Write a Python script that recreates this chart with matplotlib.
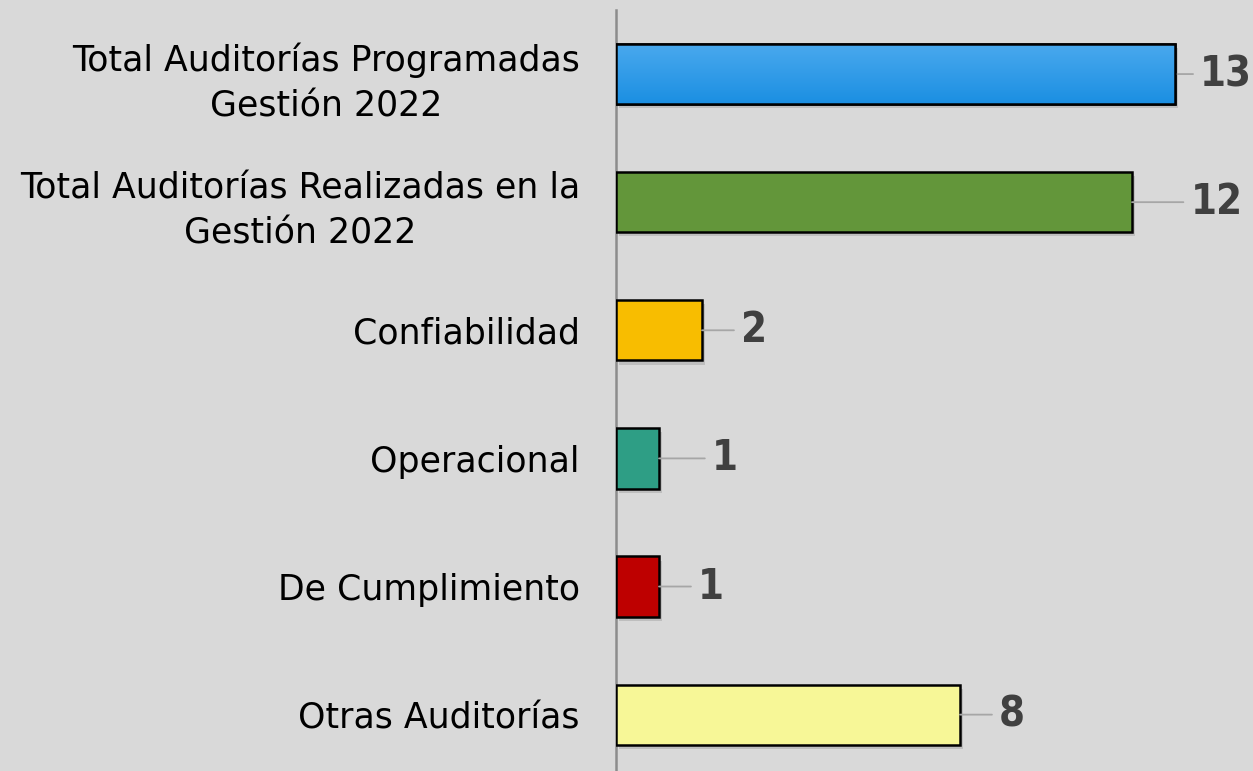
import matplotlib
matplotlib.use("Agg")
import matplotlib.pyplot as plt
import matplotlib.patheffects as pe
import numpy as np

categories = [
    "Total Auditorías Programadas\nGestión 2022",
    "Total Auditorías Realizadas en la\nGestión 2022",
    "Confiabilidad",
    "Operacional",
    "De Cumplimiento",
    "Otras Auditorías",
]
values = [13, 12, 2, 1, 1, 8]
colors = ["#2fa0ec", "#63963a", "#f8bd00", "#2e9e85", "#be0000", "#f7f797"]
# leader line length for each value label (points)
label_gap = [18, 42, 28, 38, 28, 28]

bg = "#d9d9d9"
fig = plt.figure(figsize=(12.53, 7.71), dpi=100, facecolor=bg)
ax = fig.add_axes([616 / 1253, 0, 637 / 1253, 761 / 771])
ax.set_facecolor(bg)

y = np.arange(len(values))
bars = ax.barh(y, values, height=0.47, color=colors, edgecolor="black",
               linewidth=1.8, zorder=3)

# soft drop shadow under each bar
for b in bars:
    b.set_path_effects([pe.SimplePatchShadow(offset=(2, -3), shadow_rgbFace="#000000",
                                             alpha=0.12), pe.Normal()])

# vertical gradient on the first bar
b0 = bars[0]
grad = np.linspace(0, 1, 100).reshape(-1, 1)
cmap = matplotlib.colors.LinearSegmentedColormap.from_list("g", ["#4aa9ee", "#1b8fe2"])
im = ax.imshow(grad, cmap=cmap, aspect="auto", zorder=3.5,
               extent=(0, values[0], b0.get_y() + b0.get_height(), b0.get_y()))
im.set_clip_path(b0)
ax.barh(y[0], values[0], height=0.47, color="none", edgecolor="black",
        linewidth=1.8, zorder=4)

for yi, v, gap in zip(y, values, label_gap):
    ax.annotate(str(v), xy=(v, yi), xytext=(gap, 0), textcoords="offset points",
                ha="left", va="center", fontsize=30, fontweight="bold",
                fontstretch="condensed", color="#404040",
                arrowprops=dict(arrowstyle="-", color="#a6a6a6", lw=1.3,
                                shrinkA=3, shrinkB=0))

ax.set_xlim(0, 637 / 43)
ax.set_ylim(5.44, -0.5)
ax.set_xticks([])
ax.set_yticks(y)
ax.set_yticklabels(categories, fontsize=25, family="DejaVu Sans", color="black",
                   multialignment="center", linespacing=1.4)
ax.tick_params(axis="y", length=0, pad=26)

for s in ["top", "right", "bottom"]:
    ax.spines[s].set_visible(False)
ax.spines["left"].set_color("#8c8c8c")
ax.spines["left"].set_linewidth(1.8)

fig.savefig("out.png", dpi=100, facecolor=bg)
